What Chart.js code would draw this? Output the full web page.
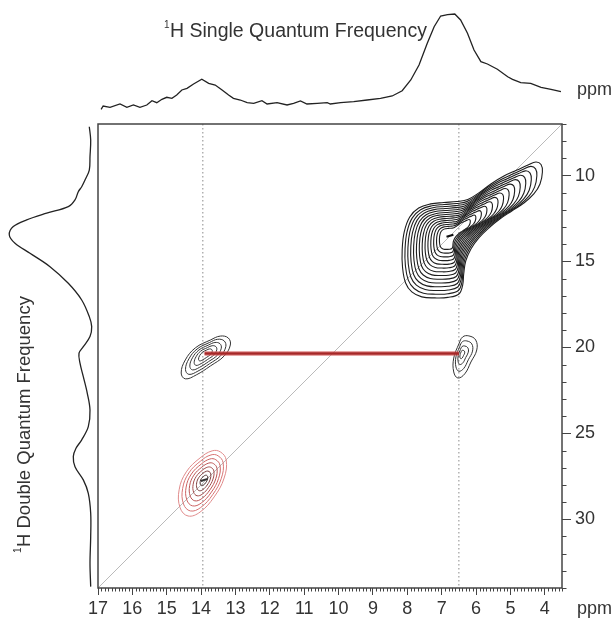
<!DOCTYPE html>
<html>
<head>
<title>1H DQ-SQ</title>
<script src="https://cdn.jsdelivr.net/npm/chart.js"></script>
<style>
  body { margin: 0; background: #fff; }
  #wrap { position: relative; width: 616px; height: 624px; }
  canvas { position: absolute; }
</style>
</head>
<body>
<div id="wrap">
  <canvas id="mainChart" width="616" height="624" style="left:0;top:0"></canvas>
  <canvas id="topChart" width="464" height="120" style="left:98px;top:0"></canvas>
  <canvas id="sideChart" width="97" height="464" style="left:0;top:124px"></canvas>
</div>
<script>
// axis ranges (ppm)
const sqRange = [3.5, 17];
const dqRange = [7, 34];
const xTickLabels = [17, 16, 15, 14, 13, 12, 11, 10, 9, 8, 7, 6, 5, 4];
const yTickLabels = [10, 15, 20, 25, 30];

// 1H single quantum projection (top)
const sqPpm = [16.91,16.85,16.65,16.36,16.16,15.97,15.78,15.58,15.43,15.29,15.14,15.00,14.85,14.71,14.56,14.41,14.22,13.98,13.78,13.59,13.39,13.20,13.06,12.86,12.66,12.47,12.23,12.08,11.79,11.50,11.31,11.11,10.92,10.62,10.33,10.24,9.94,9.56,9.17,8.78,8.44,8.15,7.90,7.66,7.42,7.22,7.03,6.83,6.62,6.45,6.25,6.06,5.86,5.67,5.38,5.08,4.94,4.70,4.41,4.11,3.82,3.53];
const sqIntensity = [10.7,14.0,12.7,16.0,12.7,15.0,12.7,15.0,19.3,17.3,20.7,22.7,21.7,25.0,30.0,31.7,36.0,40.7,36.7,35.0,30.0,25.0,21.7,20.0,17.3,16.7,19.3,16.0,17.3,15.0,16.7,19.0,16.0,16.7,17.3,16.0,17.3,18.3,20.0,21.7,24.0,29.3,40.0,55.0,76.7,93.3,104.0,105.3,106.0,100.0,86.7,70.0,58.3,56.0,50.7,43.3,40.7,37.3,36.7,32.7,30.7,28.3];

// 1H double quantum projection (left)
const dqPpm = [7.16,7.93,8.90,9.68,10.26,10.65,10.94,11.42,11.81,12.19,12.58,12.97,13.46,13.94,14.52,15.30,16.27,17.24,18.21,18.79,19.37,19.96,20.34,20.92,21.70,22.67,23.64,24.61,25.38,25.87,26.35,26.94,27.71,28.49,29.65,31.01,32.56,33.92];
const dqIntensity = [7.7,6.3,7.0,7.7,12.0,15.3,18.7,22.0,28.7,50.3,70.3,83.7,87.7,82.0,67.0,47.0,28.7,15.3,7.7,5.3,7.0,13.7,18.0,17.0,13.7,9.7,7.0,8.7,15.3,21.0,23.7,22.0,13.7,8.7,6.3,6.3,7.0,6.3];

// contour peaks: outer contour outline [sq, dq], peak centre, contour levels
const bigOutline = [[8.15,14.33],[8.09,13.28],[7.93,12.41],[7.67,11.89],[7.32,11.65],[6.94,11.57],[6.56,11.51],[6.24,11.39],[5.92,11.01],[5.57,10.49],[5.19,10.03],[4.81,9.68],[4.49,9.39],[4.26,9.21],[4.11,9.36],[4.07,9.79],[4.14,10.49],[4.32,11.07],[4.61,11.60],[4.96,12.06],[5.31,12.53],[5.63,13.05],[5.92,13.63],[6.15,14.27],[6.30,14.97],[6.36,15.73],[6.39,16.37],[6.50,16.89],[6.82,17.09],[7.20,17.12],[7.58,17.06],[7.87,16.77],[8.05,16.25],[8.14,15.32]];
const bigCenter = [6.76, 13.5];
const bigLevels = [1, 0.94, 0.88, 0.82, 0.76, 0.70, 0.64, 0.58, 0.52, 0.46, 0.40, 0.34, 0.28, 0.22];

const crossLeftOutline = [[13.21,19.45],[13.15,19.86],[13.33,20.50],[13.73,21.08],[14.14,21.60],[14.46,21.83],[14.58,21.49],[14.46,20.73],[14.17,20.03],[13.73,19.57],[13.44,19.34]];
const crossLeftCenter = [13.88, 20.38];
const crossLeftLevels = [1, 0.82, 0.64, 0.46, 0.28];

const crossRightOutline = [[6.21,19.33],[6.01,19.57],[5.98,20.15],[6.15,20.85],[6.33,21.54],[6.53,21.78],[6.65,21.43],[6.65,20.62],[6.50,19.80],[6.39,19.39]];
const crossRightCenter = [6.42, 20.38];
const crossRightLevels = [1, 0.72, 0.44, 0.2];

const diagOutline = [[13.44,26.08],[13.27,26.55],[13.33,27.60],[13.62,28.70],[14.03,29.58],[14.38,29.81],[14.61,29.34],[14.64,28.29],[14.43,27.24],[14.03,26.43],[13.68,26.02]];
const diagCenter = [13.91, 27.71];
const diagLevels = [1, 0.86, 0.72, 0.58, 0.44, 0.30, 0.16];
const diagColors = ['#e08a8a', '#d87474', '#cc6262', '#bb5454', '#a04a4a', '#7e3e3e', '#4a3030'];

// guide lines
const guideSq = [13.95, 6.5];
const correlationDq = 20.35;
const correlationSq = [13.9, 6.5];

Chart.defaults.font.family = '"Liberation Sans", Arial, sans-serif';
Chart.defaults.color = '#333';

function ring(outline, c, f) {
  const p = outline.map(([x, y]) => ({x: c[0] + (x - c[0]) * f, y: c[1] + (y - c[1]) * f}));
  return [p[p.length - 1], ...p, p[0], p[1]];
}

function contourSets(outline, c, levels, colors, width) {
  return levels.map((f, i) => {
    const data = ring(outline, c, f);
    const n = data.length;
    return {
      data: data,
      showLine: true,
      pointRadius: 0,
      borderWidth: width,
      borderColor: Array.isArray(colors) ? colors[i] : colors,
      tension: 0.4,
      clip: false,
      segment: {
        borderColor: s => (s.p0DataIndex === 0 || s.p1DataIndex === n - 1) ? 'rgba(0,0,0,0)' : undefined
      }
    };
  });
}

function centreMark(c, color) {
  return {
    data: [{x: c[0] + 0.1, y: c[1] + 0.06}, {x: c[0] - 0.1, y: c[1] - 0.06}],
    showLine: true, pointRadius: 0, borderWidth: 2, borderColor: color
  };
}

const datasets = [];
datasets.push({
  data: [{x: correlationSq[0], y: correlationDq}, {x: correlationSq[1], y: correlationDq}],
  showLine: true, pointRadius: 0, borderWidth: 2.5, borderColor: '#a82828'
});
datasets.push({
  data: [{x: correlationSq[0], y: correlationDq}, {x: correlationSq[1], y: correlationDq}],
  showLine: true, pointRadius: 0, borderWidth: 5, borderColor: 'rgba(215,95,95,0.55)'
});
datasets.push(centreMark(bigCenter, '#111'));
datasets.push(centreMark(diagCenter, '#333'));
datasets.push(...contourSets(bigOutline, bigCenter, bigLevels, '#1e1e1e', 1.1));
datasets.push(...contourSets(crossLeftOutline, crossLeftCenter, crossLeftLevels, '#333', 1));
datasets.push(...contourSets(crossRightOutline, crossRightCenter, crossRightLevels, '#333', 1));
datasets.push(...contourSets(diagOutline, diagCenter, diagLevels, diagColors, 1));
guideSq.forEach(v => datasets.push({
  data: [{x: v, y: dqRange[0]}, {x: v, y: dqRange[1]}],
  showLine: true, pointRadius: 0, borderWidth: 1, borderColor: '#8a8a8a', borderDash: [1.5, 2.5]
}));
datasets.push({
  data: [{x: sqRange[1], y: dqRange[1]}, {x: sqRange[0], y: dqRange[0]}],
  showLine: true, pointRadius: 0, borderWidth: 0.8, borderColor: '#a8a8a8'
});

const frameAndTicks = {
  id: 'frameAndTicks',
  afterDraw(chart) {
    const {ctx, chartArea: a, scales: {x, y}} = chart;
    ctx.save();
    ctx.strokeStyle = '#444';
    ctx.lineWidth = 1;
    ctx.beginPath();
    for (let i = 35; i <= 170; i++) {
      if (i % 10 === 0) continue;
      const px = Math.round(x.getPixelForValue(i / 10)) + 0.5;
      ctx.moveTo(px, a.bottom);
      ctx.lineTo(px, a.bottom + 3.5);
    }
    for (let v = 7; v <= 34; v++) {
      if (v % 5 === 0) continue;
      const py = Math.round(y.getPixelForValue(v)) + 0.5;
      ctx.moveTo(a.right, py);
      ctx.lineTo(a.right + 4.5, py);
    }
    ctx.stroke();
    ctx.lineWidth = 1.5;
    ctx.strokeRect(a.left, a.top, a.right - a.left, a.bottom - a.top);

    ctx.fillStyle = '#333';
    ctx.font = '18px "Liberation Sans", Arial, sans-serif';
    ctx.textBaseline = 'alphabetic';
    ctx.fillText('ppm', 577, 95);
    ctx.fillText('ppm', 577, 614);

    // top title
    ctx.font = '10px "Liberation Sans", Arial, sans-serif';
    ctx.fillText('1', 164, 28);
    ctx.font = '19.5px "Liberation Sans", Arial, sans-serif';
    ctx.fillText('H Single Quantum Frequency', 170, 37);

    // side title
    ctx.translate(30, 553);
    ctx.rotate(-Math.PI / 2);
    ctx.font = '10px "Liberation Sans", Arial, sans-serif';
    ctx.fillText('1', 0, -9);
    ctx.font = '18.5px "Liberation Sans", Arial, sans-serif';
    ctx.fillText('H Double Quantum Frequency', 6, 0);
    ctx.restore();
  }
};

new Chart(document.getElementById('mainChart'), {
  type: 'scatter',
  data: {datasets: datasets},
  options: {
    responsive: false,
    animation: false,
    devicePixelRatio: 1,
    layout: {padding: {left: 98, top: 124, right: 0, bottom: 0}},
    plugins: {legend: {display: false}, tooltip: {enabled: false}},
    scales: {
      x: {
        type: 'linear', position: 'bottom', reverse: true,
        min: sqRange[0], max: sqRange[1],
        border: {display: false},
        grid: {drawOnChartArea: false, tickLength: 7, color: '#444', lineWidth: 1},
        ticks: {stepSize: 1, padding: 3, maxRotation: 0, color: '#333', font: {size: 18}},
        afterBuildTicks: s => { s.ticks = xTickLabels.map(v => ({value: v})); },
        afterFit: s => { s.height = 36; }
      },
      y: {
        type: 'linear', position: 'right', reverse: true,
        min: dqRange[0], max: dqRange[1],
        border: {display: false},
        grid: {drawOnChartArea: false, tickLength: 9, color: '#444', lineWidth: 1},
        ticks: {stepSize: 5, padding: 4, color: '#333', font: {size: 18}},
        afterBuildTicks: s => { s.ticks = yTickLabels.map(v => ({value: v})); },
        afterFit: s => { s.width = 54; }
      }
    }
  },
  plugins: [frameAndTicks]
});

new Chart(document.getElementById('topChart'), {
  type: 'scatter',
  data: {datasets: [{
    data: sqPpm.map((p, i) => ({x: p, y: sqIntensity[i]})),
    showLine: true, pointRadius: 0, borderWidth: 1.3, borderColor: '#222', tension: 0, clip: false
  }]},
  options: {
    responsive: false, animation: false, devicePixelRatio: 1,
    plugins: {legend: {display: false}, tooltip: {enabled: false}},
    scales: {
      x: {display: false, reverse: true, min: sqRange[0], max: sqRange[1]},
      y: {display: false, min: 0, max: 120}
    }
  }
});

new Chart(document.getElementById('sideChart'), {
  type: 'scatter',
  data: {datasets: [{
    data: dqPpm.map((p, i) => ({x: dqIntensity[i], y: p})),
    showLine: true, pointRadius: 0, borderWidth: 1.3, borderColor: '#222', tension: 0.35, clip: false
  }]},
  options: {
    responsive: false, animation: false, devicePixelRatio: 1,
    plugins: {legend: {display: false}, tooltip: {enabled: false}},
    scales: {
      x: {display: false, reverse: true, min: 0, max: 97},
      y: {display: false, reverse: true, min: dqRange[0], max: dqRange[1]}
    }
  }
});
</script>
</body>
</html>
